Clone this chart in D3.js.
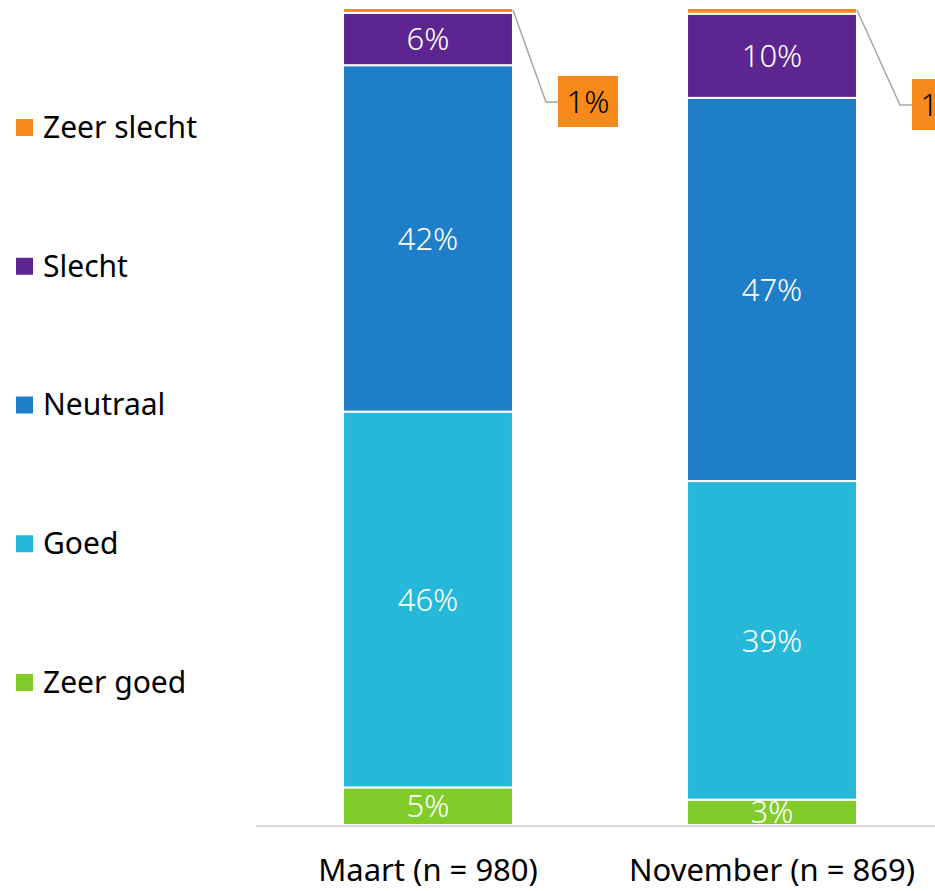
<!DOCTYPE html>
<head>
  <meta charset="utf-8">
  <style>
    body { margin: 0; background: #fff; }
    svg text { font-family: "Noto Sans", "Open Sans", sans-serif; }
  </style>
</head>
<body>
  <svg width="935" height="891" id="chart"></svg>
  <script src="https://d3js.org/d3.v7.min.js"></script>
  <script>
    // data (percentages)
    const categories = ["Maart (n = 980)", "November (n = 869)"];
    const series = ["Zeer goed", "Goed", "Neutraal", "Slecht", "Zeer slecht"];
    const zeerGoed   = [4.6, 3.1];
    const goed       = [46.0, 39.0];
    const neutraal   = [42.4, 46.9];
    const slecht     = [6.4, 10.3];
    const zeerSlecht = [0.6, 0.7];
    const colors = ["#82cc2a", "#26b8d8", "#1e7ec8", "#5c2590", "#f7891a"];

    // where the little callout boxes sit, relative to the bar's right edge
    const calloutDx = [45, 55];
    const calloutY = [76, 79];

    const rows = categories.map((c, i) => ({
      cat: c,
      idx: i,
      "Zeer goed": zeerGoed[i],
      "Goed": goed[i],
      "Neutraal": neutraal[i],
      "Slecht": slecht[i],
      "Zeer slecht": zeerSlecht[i]
    }));

    const svg = d3.select("#chart");

    const x = d3.scaleBand()
        .domain(categories)
        .range([256, 944])
        .paddingInner(0.506)
        .paddingOuter(0.253);
    const y = d3.scaleLinear().domain([0, 100]).range([825, 8]);
    const color = d3.scaleOrdinal().domain(series).range(colors);

    const stacked = d3.stack().keys(series)(rows);

    const layer = svg.append("g").selectAll("g")
      .data(stacked)
      .join("g")
        .attr("fill", d => color(d.key));

    layer.selectAll("rect")
      .data(d => d)
      .join("rect")
        .attr("x", d => x(d.data.cat))
        .attr("width", x.bandwidth())
        .attr("y", d => y(d[1]))
        .attr("height", d => y(d[0]) - y(d[1]))
        .attr("stroke", "#fff")
        .attr("stroke-width", 2);

    // labels inside the bars (all but the tiny top segment)
    layer.filter(d => d.key !== "Zeer slecht")
      .selectAll("text")
      .data(d => d)
      .join("text")
        .attr("x", d => x(d.data.cat) + x.bandwidth() / 2)
        .attr("y", d => (y(d[0]) + y(d[1])) / 2)
        .attr("dy", "0.36em")
        .attr("text-anchor", "middle")
        .attr("fill", "#fff")
        .style("font-size", "31px")
        .style("font-weight", 300)
        .text(d => Math.round(d[1] - d[0]) + "%");

    // callouts for Zeer slecht
    const topLayer = stacked[stacked.length - 1];
    const call = svg.append("g").selectAll("g")
      .data(topLayer)
      .join("g");
    call.append("polyline")
      .attr("points", d => {
        const i = d.data.idx;
        const x0 = x(d.data.cat) + x.bandwidth();
        const y0 = y(d[1]) + 2;
        const ym = calloutY[i] + 26;
        return [[x0, y0], [x0 + calloutDx[i] - 12, ym], [x0 + calloutDx[i], ym]].join(" ");
      })
      .attr("fill", "none")
      .attr("stroke", "#a6a6a6")
      .attr("stroke-width", 1.5);
    call.append("rect")
      .attr("x", d => x(d.data.cat) + x.bandwidth() + calloutDx[d.data.idx])
      .attr("y", d => calloutY[d.data.idx])
      .attr("width", 60)
      .attr("height", 51)
      .attr("fill", "#f7891a");
    call.append("text")
      .attr("x", d => x(d.data.cat) + x.bandwidth() + calloutDx[d.data.idx] + 30)
      .attr("y", d => calloutY[d.data.idx] + 26)
      .attr("dy", "0.36em")
      .attr("text-anchor", "middle")
      .attr("fill", "#000")
      .style("font-size", "31px")
      .style("font-weight", 300)
      .text(d => Math.round(d[1] - d[0]) + "%");

    // x axis
    const xAxis = svg.append("g")
      .attr("transform", "translate(0,826)")
      .call(d3.axisBottom(x).tickSize(0).tickPadding(33));
    xAxis.select(".domain")
      .attr("d", "M256,0H935")
      .attr("stroke", "#d9d9d9")
      .attr("stroke-width", 2);
    xAxis.selectAll(".tick text")
      .attr("fill", "#000")
      .style("font-size", "31px")
      .style("font-family", "'Noto Sans', 'Open Sans', sans-serif");

    // legend
    const legendY = d3.scalePoint()
      .domain(series.slice().reverse())
      .range([127, 682]);
    const legend = svg.append("g").selectAll("g")
      .data(series)
      .join("g")
        .attr("transform", d => `translate(16,${legendY(d)})`);
    legend.append("rect")
      .attr("x", 0).attr("y", -8)
      .attr("width", 17).attr("height", 17)
      .attr("fill", d => color(d));
    legend.append("text")
      .attr("x", 27)
      .attr("dy", "0.36em")
      .attr("fill", "#000")
      .style("font-size", "30px")
      .text(d => d);
  </script>
</body>
